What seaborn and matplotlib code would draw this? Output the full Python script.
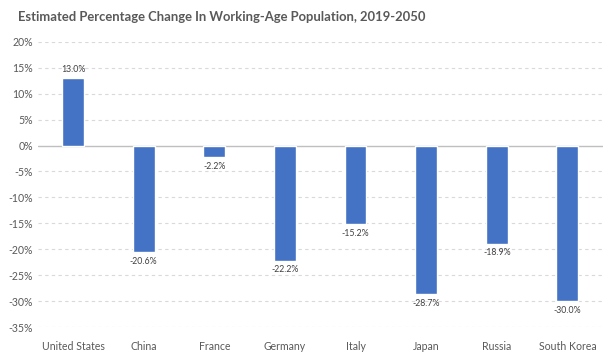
import matplotlib
matplotlib.use("Agg")
import matplotlib.pyplot as plt
import seaborn as sns
import pandas as pd

countries = ['United States', 'China', 'France', 'Germany', 'Italy', 'Japan', 'Russia', 'South Korea']
change = [13.0, -20.6, -2.2, -22.2, -15.2, -28.7, -18.9, -30.0]
yticks = [20, 15, 10, 5, 0, -5, -10, -15, -20, -25, -30, -35]

df = pd.DataFrame({'country': countries, 'change': change})

sns.set_style('white')
plt.rcParams['font.family'] = ['Lato', 'DejaVu Sans']

fig = plt.figure(figsize=(6.1, 3.52), dpi=100)
ax = fig.add_axes([0.062, 0.071, 0.926, 0.81])

sns.barplot(data=df, x='country', y='change', color='#4472C4', width=0.31,
            saturation=1, ax=ax, zorder=3)

# grid lines, solid line at zero
for t in yticks:
    if t == 0:
        ax.axhline(0, color='#BFBFBF', lw=1, zorder=2)
    else:
        ax.axhline(t, color='#D9D9D9', lw=0.8, ls=(0, (3, 3)), zorder=1)

# value labels
for i, v in enumerate(change):
    if v >= 0:
        ax.text(i, v + 0.8, f'{v:.1f}%', ha='center', va='bottom', fontsize=6.3, color='#404040')
    else:
        ax.text(i, v - 0.9, f'{v:.1f}%', ha='center', va='top', fontsize=6.3, color='#404040')

ax.set_ylim(-35, 20)
ax.set_xlim(-0.5, len(countries) - 0.5)
ax.set_yticks(yticks)
ax.set_yticklabels([f'{t}%' for t in yticks])
ax.tick_params(axis='both', length=0, labelsize=7.6, colors='#595959')
ax.tick_params(axis='x', pad=10)
ax.set_xlabel('')
ax.set_ylabel('')
for s in ax.spines.values():
    s.set_visible(False)

fig.text(0.03, 0.952, 'Estimated Percentage Change In Working-Age Population, 2019-2050',
         fontsize=9.4, fontweight='bold', color='#595959', ha='left', va='center')

fig.savefig('out.png', dpi=100)
